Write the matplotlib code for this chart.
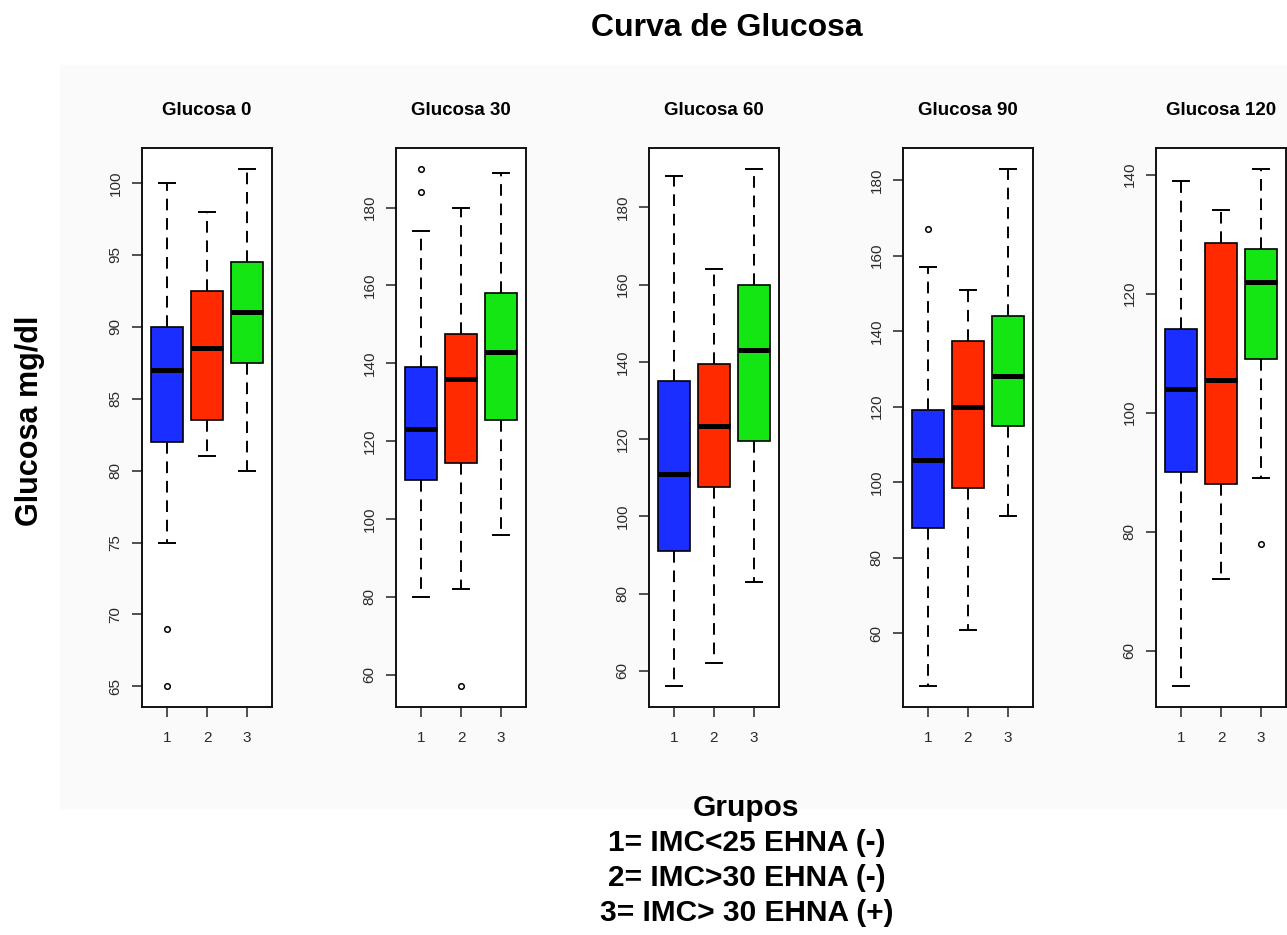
import matplotlib
matplotlib.use("Agg")
import matplotlib.pyplot as plt
from matplotlib.patches import Rectangle
from matplotlib.ticker import MultipleLocator

plt.rcParams['font.family'] = ['Liberation Sans', 'DejaVu Sans']

## data (groups 1, 2, 3 in each panel)
titles = ["Glucosa 0", "Glucosa 30", "Glucosa 60", "Glucosa 90", "Glucosa 120"]
groups = [1, 2, 3]
whisker_low = [[75, 81, 80], [80, 82, 96], [56, 62, 83], [46, 61, 91], [54, 72, 89]]
q1 = [[82, 83.5, 87.5], [110, 114.5, 125.5], [91, 107.5, 119.5], [88, 98.5, 115], [90, 88, 109]]
median = [[87, 88.5, 91], [123, 136, 143], [111, 123.5, 143], [106, 120, 128], [104, 105.5, 122]]
q3 = [[90, 92.5, 94.5], [139, 147.5, 158], [135, 139.5, 160], [119, 137.5, 144], [114, 128.5, 127.5]]
whisker_high = [[100, 98, 101], [174, 180, 189], [188, 164, 190], [157, 151, 183], [139, 134, 141]]
outliers = [[[69, 65], [], []],
            [[190, 184], [57], []],
            [[], [], []],
            [[167], [], []],
            [[], [], [78]]]
tick_step = [5, 20, 20, 20, 20]

box_colors = ["#1a2eff", "#ff2a00", "#14e614"]

W, H = 1287, 935
fig = plt.figure(figsize=(W / 100, H / 100), dpi=100)
fig.patch.set_facecolor("white")

# very light grey area of the pasted R plot
fig.add_artist(Rectangle((60 / W, 1 - 808 / H), (W - 60) / W, (808 - 65) / H,
                         transform=fig.transFigure, color="#fafafa", zorder=-5))

panel_left = [142, 396, 649, 903, 1156]
ax_w = 130 / W
ax_bottom = 1 - 707 / H
ax_h = (707 - 148) / H

for i in range(5):
    ax = fig.add_axes([panel_left[i] / W, ax_bottom, ax_w, ax_h])
    ax.set_facecolor("white")
    stats = []
    for j in range(3):
        stats.append({"med": median[i][j], "q1": q1[i][j], "q3": q3[i][j],
                      "whislo": whisker_low[i][j], "whishi": whisker_high[i][j],
                      "fliers": outliers[i][j]})
    bp = ax.bxp(stats, positions=groups, widths=0.8, patch_artist=True,
                boxprops=dict(edgecolor="black", linewidth=1.2),
                medianprops=dict(color="black", linewidth=3.6, solid_capstyle="butt"),
                whiskerprops=dict(color="black", linewidth=1.4, linestyle=(0, (6, 4))),
                capprops=dict(color="black", linewidth=1.4),
                flierprops=dict(marker="o", markerfacecolor="none", markeredgecolor="black",
                                markersize=4, markeredgewidth=1.1))
    for patch, c in zip(bp["boxes"], box_colors):
        patch.set_facecolor(c)

    # R style limits: data range + 4%
    vals = whisker_low[i] + whisker_high[i] + [v for o in outliers[i] for v in o]
    lo, hi = min(vals), max(vals)
    pad = (hi - lo) * 0.04
    ax.set_ylim(lo - pad, hi + pad)
    ax.set_xlim(0.38, 3.62)
    ax.yaxis.set_major_locator(MultipleLocator(tick_step[i]))
    ax.set_xticks(groups)
    ax.set_xticklabels([str(g) for g in groups])

    for s in ax.spines.values():
        s.set_linewidth(1.4)
        s.set_color("#111111")
    ax.tick_params(length=7, width=1.1, color="#222222", labelsize=11, labelcolor="#2a2a2a")
    ax.tick_params(axis="x", pad=10)
    ax.tick_params(axis="y", pad=7)
    for lab in ax.get_yticklabels():
        lab.set_rotation(90)
        lab.set_va("center")
    ax.set_title(titles[i], fontsize=13.5, fontweight="bold", pad=24)

fig.text(0.565, 1 - 28 / H, "Curva de Glucosa", ha="center", va="center",
         fontsize=23, fontweight="bold")
fig.text(30 / W, 1 - 421 / H, "Glucosa mg/dl", ha="center", va="center",
         rotation=90, fontsize=22, fontweight="bold")

bottom_lines = ["Grupos", "1= IMC<25 EHNA (-)", "2= IMC>30 EHNA (-)", "3= IMC> 30 EHNA (+)"]
line_y = [808, 843, 878, 913]
for txt, y in zip(bottom_lines, line_y):
    fig.text(0.580, 1 - y / H, txt, ha="center", va="center", fontsize=21.5, fontweight="bold")

fig.savefig("out.png", dpi=100)
